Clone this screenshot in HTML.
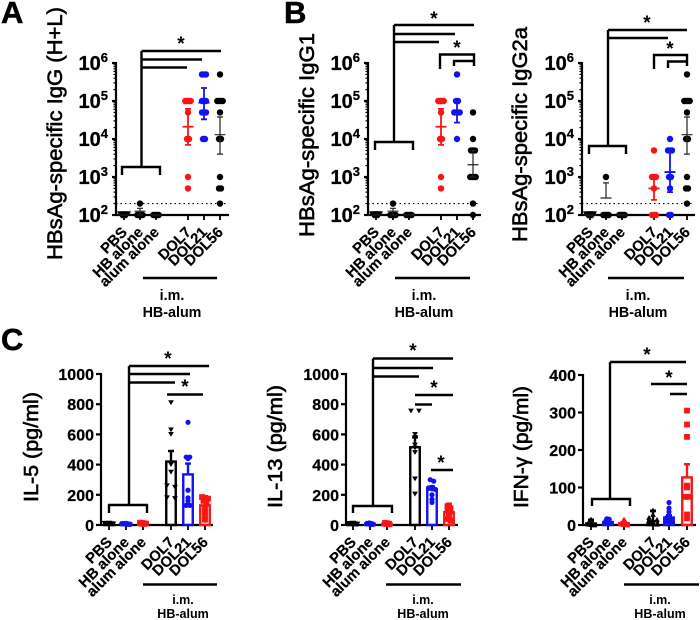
<!DOCTYPE html>
<html lang="en">
<head>
<meta charset="utf-8">
<title>HBsAg antibody and cytokine responses</title>
<style>
html,body{margin:0;padding:0;background:#fff;width:700px;height:620px;overflow:hidden}
svg{display:block}
text{font-family:"Liberation Sans",Arial,sans-serif;fill:#000}
.letter{font-size:31px;font-weight:700;stroke:#000;stroke-width:.5px}
.title{font-size:21px;stroke:#000;stroke-width:.6px}
.titleb{font-size:20px;stroke:#000;stroke-width:.6px}
.star{font-size:19px;font-weight:700;text-anchor:middle}
.sub{font-size:14.300px;font-weight:700;text-anchor:middle}
.subb{font-size:12.500px;font-weight:700;text-anchor:middle}
.ann{fill:none;stroke:#000;stroke-width:2.4}
</style>
</head>
<body>
<svg id="figure" xmlns="http://www.w3.org/2000/svg" width="700" height="620" viewBox="0 0 700 620">
  <rect width="700" height="620" fill="#fff"/>
  <text class="letter" x="1" y="23">A</text>
  <text class="letter" x="284" y="23">B</text>
  <text class="letter" x="1" y="350">C</text>

  <text class="title" transform="translate(62,260) rotate(-90)" textLength="253" lengthAdjust="spacingAndGlyphs">HBsAg-specific IgG (H+L)</text>
  <text class="title" transform="translate(314,237) rotate(-90)" textLength="204" lengthAdjust="spacingAndGlyphs">HBsAg-specific IgG1</text>
  <text class="title" transform="translate(527,242) rotate(-90)" textLength="215" lengthAdjust="spacingAndGlyphs">HBsAg-specific IgG2a</text>
  <text class="titleb" transform="translate(38,502) rotate(-90)" textLength="110" lengthAdjust="spacingAndGlyphs">IL-5 (pg/ml)</text>
  <text class="titleb" transform="translate(282,508) rotate(-90)" textLength="123" lengthAdjust="spacingAndGlyphs">IL-13 (pg/ml)</text>
  <text class="titleb" transform="translate(528,508) rotate(-90)" textLength="122" lengthAdjust="spacingAndGlyphs">IFN-γ (pg/ml)</text>

  <g id="charts"></g>

  <g>
    <path class="ann" d="M122 175V167H160V175M141.500 167V51M141.500 51H221M141.500 59.500H202M141.500 67.500H187"/>
    <text class="star" x="181" y="50">*</text>
  </g>
  <g>
    <path class="ann" d="M375 150V142H413V150M394 142V25M394 25H474M394 34H455M394 42H439M440 69V54.500H474V66M454 66V61H474"/>
    <text class="star" x="434" y="25">*</text>
    <text class="star" x="457" y="54">*</text>
  </g>
  <g>
    <path class="ann" d="M589 154V146H626V154M608 146V30M608 30H687M608 38H668M654 69V55H687V66M668 68V61.500H687"/>
    <text class="star" x="647" y="29">*</text>
    <text class="star" x="670" y="55">*</text>
  </g>
  <g>
    <path class="ann" d="M109 513V505H147V513M129 505V366M129 366H209M129 374H190M129 382.500H175M167 394.500H203"/>
    <text class="star" x="168" y="365">*</text>
    <text class="star" x="185" y="393">*</text>
  </g>
  <g>
    <path class="ann" d="M353 513V506H392V513M373 506V358.500M373 358.500H453M373 368H433M373 376.500H419M415 395H453M415 404.500H432M431 470H453"/>
    <text class="star" x="413" y="357">*</text>
    <text class="star" x="434" y="394">*</text>
    <text class="star" x="441" y="469">*</text>
  </g>
  <g>
    <path class="ann" d="M592 506V499H630V506M610 499V362M610 362H686M651 384H687M670 394H687"/>
    <text class="star" x="647" y="361">*</text>
    <text class="star" x="669" y="384">*</text>
  </g>

  <g>
    <path class="ann" d="M143 278H217"/>
    <text class="sub" x="172" y="300">i.m.</text>
    <text class="sub" x="172" y="317">HB-alum</text>
  </g>
  <g>
    <path class="ann" d="M395 278H470"/>
    <text class="sub" x="424" y="300">i.m.</text>
    <text class="sub" x="424" y="317">HB-alum</text>
  </g>
  <g>
    <path class="ann" d="M608 278H684"/>
    <text class="sub" x="638" y="300">i.m.</text>
    <text class="sub" x="638" y="317">HB-alum</text>
  </g>
  <g>
    <path class="ann" d="M143 584.500H217"/>
    <text class="subb" x="183" y="604">i.m.</text>
    <text class="subb" x="183" y="618">HB-alum</text>
  </g>
  <g>
    <path class="ann" d="M386 584.500H461"/>
    <text class="subb" x="423" y="604">i.m.</text>
    <text class="subb" x="423" y="618">HB-alum</text>
  </g>
  <g>
    <path class="ann" d="M624 584.500H699"/>
    <text class="subb" x="660" y="604">i.m.</text>
    <text class="subb" x="660" y="618">HB-alum</text>
  </g>
</svg>

<script>
// Shared categories and tick labels
const categories = ['PBS', 'HB alone', 'alum alone', 'DOL7', 'DOL21', 'DOL56'];
const logTickExponents = [2, 3, 4, 5, 6];
const cytokineTicks1000 = [0, 200, 400, 600, 800, 1000];
const cytokineTicks400 = [0, 100, 200, 300, 400];
const detectionLimit = 200;

// Panel A: total IgG titres
const iggPBS = [100, 100, 100, 100, 100];
const iggHB = [200, 100, 100, 100, 100, 100];
const iggAlum = [100, 100, 100, 100, 100];
const iggDOL7 = [100000, 100000, 100000, 100000, 100000, 50000, 10000, 10000, 1000, 500];
const iggDOL21 = [500000, 500000, 500000, 100000, 100000, 100000, 50000, 50000, 50000, 10000, 10000];
const iggDOL56 = [500000, 100000, 100000, 100000, 100000, 50000, 10000, 10000, 1000, 500, 500, 200];
const iggMeans = [100, 126, 100, 21000, 90000, 13000];
const iggLow = [100, 100, 100, 7000, 33000, 4000];
const iggHigh = [100, 150, 100, 62000, 220000, 38000];

// Panel B: IgG1 titres
const igg1PBS = [100, 100, 100, 100, 100];
const igg1HB = [200, 100, 100, 100, 100, 100];
const igg1Alum = [100, 100, 100, 100, 100];
const igg1DOL7 = [100000, 100000, 100000, 100000, 100000, 50000, 10000, 10000, 1000, 500];
const igg1DOL21 = [500000, 100000, 100000, 50000, 50000, 50000, 50000, 10000];
const igg1DOL56 = [50000, 10000, 5000, 5000, 5000, 1000, 1000, 1000, 1000, 200, 100];
const igg1Means = [100, 126, 100, 21000, 52000, 2100];
const igg1Low = [100, 100, 100, 7000, 27000, 1000];
const igg1High = [100, 150, 100, 62000, 100000, 5000];

// Panel B2: IgG2a titres
const igg2aPBS = [100, 100, 100, 100, 100];
const igg2aHB = [1000, 100, 100, 100, 100, 100];
const igg2aAlum = [100, 100, 100, 100, 100];
const igg2aDOL7 = [5000, 1000, 1000, 1000, 500, 100, 100, 100];
const igg2aDOL21 = [10000, 5000, 5000, 5000, 1000, 1000, 500, 100, 100];
const igg2aDOL56 = [500000, 100000, 100000, 100000, 100000, 50000, 10000, 10000, 1000, 500, 500, 200];
const igg2aMeans = [100, 280, 100, 500, 1350, 13000];
const igg2aLow = [100, 280, 100, 250, 400, 4000];
const igg2aHigh = [100, 700, 100, 1000, 5000, 38000];

// Panel C: IL-5
const il5PBS = [10, 9, 8, 7, 6, 5];
const il5HB = [10, 9, 8, 7, 6, 5];
const il5Alum = [16, 14, 12, 10, 8, 6];
const il5DOL7 = [810, 630, 600, 400, 350, 260, 250, 180, 175];
const il5DOL21 = [680, 450, 450, 440, 230, 180, 160, 130, 130];
const il5DOL56 = [185, 180, 175, 160, 150, 110, 90, 60, 35];
const il5Means = [8, 8, 10, 420, 335, 130];
const il5Sem = [2, 2, 2, 70, 72, 28];

// Panel C: IL-13
const il13PBS = [10, 8, 7, 6, 5, 4];
const il13HB = [12, 10, 9, 8, 6, 5];
const il13Alum = [15, 12, 10, 8, 6, 4];
const il13DOL7 = [755, 755, 600, 580, 530, 510, 480, 305, 205];
const il13DOL21 = [300, 290, 250, 245, 240, 235, 200, 170, 150];
const il13DOL56 = [130, 125, 110, 100, 90, 80, 60, 40, 30];
const il13Means = [7, 8, 8, 515, 235, 85];
const il13Sem = [2, 2, 2, 65, 20, 15];

// Panel C: IFN-gamma
const ifnPBS = [15, 6, 4, 3, 2, 1];
const ifnHB = [16, 15, 10, 8, 5, 3];
const ifnAlum = [15, 6, 4, 3, 2, 1];
const ifnDOL7 = [40, 28, 20, 15, 10, 8, 5, 3, 2];
const ifnDOL21 = [60, 45, 35, 25, 20, 15, 10, 8, 5];
const ifnDOL56 = [305, 268, 235, 105, 100, 75, 75, 28, 18];
const ifnMeans = [4, 8, 5, 10, 20, 127];
const ifnSem = [10, 3, 2, 28, 6, 35];

const colorBlack = '#000';
const colorRed = '#fa1414';
const colorBlue = '#1212f0';

const SVG_NS = 'http://www.w3.org/2000/svg';
const root = document.getElementById('charts');

function make(tag, attrs, parent) {
  const el = document.createElementNS(SVG_NS, tag);
  for (const k in attrs) el.setAttribute(k, attrs[k]);
  parent.appendChild(el);
  return el;
}

function marker(shape, x, y, r, color, parent) {
  let el;
  if (shape === 'circle') {
    el = make('circle', { cx: x, cy: y, r: r, fill: color }, parent);
  } else if (shape === 'square') {
    el = make('rect', { x: x - r, y: y - r, width: 2 * r, height: 2 * r, fill: color }, parent);
  } else if (shape === 'triangle-up') {
    el = make('path', { d: `M${x - r * 1.2} ${y + r}L${x + r * 1.2} ${y + r}L${x} ${y - r}Z`, fill: color }, parent);
  } else {
    el = make('path', { d: `M${x - r * 1.2} ${y - r}L${x + r * 1.2} ${y - r}L${x} ${y + r}Z`, fill: color }, parent);
  }
  
  
}

// Spread points that land on the same pixel row, Prism-style, within a capped half-width
function drawSwarm(values, cx, yScale, shape, r, spacing, maxSpread, color, parent) {
  const bins = new Map();
  values.forEach(function (v) {
    const key = Math.round(yScale(v) / 3);
    if (!bins.has(key)) bins.set(key, []);
    bins.get(key).push(v);
  });
  bins.forEach(function (vals) {
    const n = vals.length;
    const step = n > 1 ? Math.min(spacing, maxSpread / (n - 1)) : 0;
    vals.forEach(function (v, i) {
      marker(shape, cx + (i - (n - 1) / 2) * step, yScale(v), r, color, parent);
    });
  });
}

function drawCategoryAxis(g, panel, yBottom) {
  const axis = make('line', { x1: panel.axisX, x2: panel.xEnd, y1: yBottom, y2: yBottom, stroke: '#000', 'stroke-width': 2.2 }, g);
  
  
  categories.forEach(function (name, i) {
    const x = panel.xs[i];
    const tick = make('line', { x1: x, x2: x, y1: yBottom, y2: yBottom + 5, stroke: '#000', 'stroke-width': 1.8 }, g);
    
    
    const label = make('text', {
      transform: `translate(${x + 4},${yBottom + 18}) rotate(-45)`,
      'text-anchor': 'end', 'font-size': panel.catSize, 'font-weight': 700, stroke: '#000', 'stroke-width': 0.2
    }, g);
    
    
    label.textContent = name;
  });
}

function drawLogPanel(panel) {
  const g = make('g', {}, root);
  
  
  const yTop = 63, yBottom = 215;
  const minExp = logTickExponents[0];
  const maxExp = logTickExponents[logTickExponents.length - 1];
  const yScale = function (v) {
    return yBottom - (Math.log10(v) - minExp) / (maxExp - minExp) * (yBottom - yTop);
  };

  const yAxis = make('line', { x1: panel.axisX, x2: panel.axisX, y1: yTop - 1, y2: yBottom + 1, stroke: '#000', 'stroke-width': 2.2 }, g);
  
  
  logTickExponents.forEach(function (e) {
    const y = yScale(Math.pow(10, e));
    const tick = make('line', { x1: panel.axisX - 4, x2: panel.axisX, y1: y, y2: y, stroke: '#000', 'stroke-width': 2.2 }, g);
    
    
    const label = make('text', { x: panel.axisX - 8, y: y + 7, 'text-anchor': 'end', 'font-size': 20, 'font-weight': 700, stroke: '#000', 'stroke-width': 0.3 }, g);
    
    
    label.textContent = '10';
    const sup = make('tspan', { dy: -8, 'font-size': 13 }, label);
    
    
    sup.textContent = String(e);
    if (e < maxExp) {
      for (let m = 2; m < 10; m++) {
        const my = yScale(m * Math.pow(10, e));
        const minor = make('line', { x1: panel.axisX - 2.5, x2: panel.axisX, y1: my, y2: my, stroke: '#000', 'stroke-width': 1.2 }, g);
        
        
      }
    }
  });

  const limitY = yScale(detectionLimit);
  const limit = make('line', { x1: panel.axisX, x2: panel.xEnd - 3, y1: limitY, y2: limitY, stroke: '#000', 'stroke-width': 1.2, 'stroke-dasharray': '1.5 3' }, g);
  
  

  drawCategoryAxis(g, panel, yBottom);

  panel.series.forEach(function (values, i) {
    const shape = i === 0 ? 'triangle-down' : 'circle';
    const r = i === 0 ? 3.6 : 3.2;
    drawSwarm(values, panel.xs[i], yScale, shape, r, 2, 5.5, panel.colors[i], g);
    const x = panel.xs[i];
    const color = panel.colors[i];
    const width = color === colorBlack ? 1.2 : 1.8;
    const capW = 3;
    const meanW = 5.5;
    const err = make('path', {
      d: `M${x} ${yScale(panel.low[i])}V${yScale(panel.high[i])}M${x - capW} ${yScale(panel.low[i])}H${x + capW}M${x - capW} ${yScale(panel.high[i])}H${x + capW}M${x - meanW} ${yScale(panel.means[i])}H${x + meanW}`,
      stroke: color === colorBlack ? '#222' : color, 'stroke-width': width, fill: 'none'
    }, g);
    
    
  });
}

function drawBarPanel(panel) {
  const g = make('g', {}, root);
  
  
  const yBottom = 525;
  const yTop = panel.topY;
  const maxV = panel.ticks[panel.ticks.length - 1];
  const yScale = function (v) {
    return yBottom - v / maxV * (yBottom - yTop);
  };

  const yAxis = make('line', { x1: panel.axisX, x2: panel.axisX, y1: yTop - 1, y2: yBottom + 1, stroke: '#000', 'stroke-width': 2.2 }, g);
  
  
  panel.ticks.forEach(function (t) {
    const y = yScale(t);
    const tick = make('line', { x1: panel.axisX - 5, x2: panel.axisX, y1: y, y2: y, stroke: '#000', 'stroke-width': 2.2 }, g);
    
    
    const label = make('text', { x: panel.axisX - 7, y: y + 6, 'text-anchor': 'end', 'font-size': 16, 'font-weight': 700, stroke: '#000', 'stroke-width': 0.25 }, g);
    
    
    label.textContent = String(t);
  });

  drawCategoryAxis(g, panel, yBottom);

  panel.series.forEach(function (values, i) {
    const x = panel.xs[i];
    const color = panel.colors[i];
    const barW = 9.5;
    const bar = make('rect', {
      x: x - barW / 2, y: yScale(panel.means[i]), width: barW, height: yBottom - yScale(panel.means[i]),
      fill: 'none', stroke: color, 'stroke-width': 2.4
    }, g);
    
    
    const top = yScale(panel.means[i] + panel.sem[i]);
    const err = make('path', {
      d: `M${x} ${yScale(panel.means[i])}V${top}M${x - 3} ${top}H${x + 3}`,
      stroke: color, 'stroke-width': 2.4, fill: 'none'
    }, g);
    
    
    drawSwarm(values, x, yScale, panel.shapes[i], panel.sizes[i], panel.spacing[i], 9, color, g);
  });
}

const logCatSize = 14.8;

drawLogPanel({
  name: 'chart-igg', axisX: 116, xEnd: 229, catSize: logCatSize,
  xs: [124, 140, 156, 188, 204, 220],
  colors: [colorBlack, colorBlack, colorBlack, colorRed, colorBlue, colorBlack],
  series: [iggPBS, iggHB, iggAlum, iggDOL7, iggDOL21, iggDOL56],
  means: iggMeans, low: iggLow, high: iggHigh
});
drawLogPanel({
  name: 'chart-igg1', axisX: 368, xEnd: 481, catSize: logCatSize,
  xs: [376, 393, 409, 441, 457, 473],
  colors: [colorBlack, colorBlack, colorBlack, colorRed, colorBlue, colorBlack],
  series: [igg1PBS, igg1HB, igg1Alum, igg1DOL7, igg1DOL21, igg1DOL56],
  means: igg1Means, low: igg1Low, high: igg1High
});
drawLogPanel({
  name: 'chart-igg2a', axisX: 582, xEnd: 695, catSize: logCatSize,
  xs: [590, 606, 622, 654, 670, 687],
  colors: [colorBlack, colorBlack, colorBlack, colorRed, colorBlue, colorBlack],
  series: [igg2aPBS, igg2aHB, igg2aAlum, igg2aDOL7, igg2aDOL21, igg2aDOL56],
  means: igg2aMeans, low: igg2aLow, high: igg2aHigh
});

const barShapes = ['triangle-down', 'circle', 'square', 'triangle-down', 'circle', 'square'];
const ifnShapes = ['triangle-up', 'circle', 'triangle-up', 'triangle-up', 'circle', 'square'];
const barSizes = [2.8, 2.8, 2.8, 2.4, 2.6, 2.9];
const barSpacing = [2, 2, 2, 8, 3.5, 3];
const barColors = [colorBlack, colorBlue, colorRed, colorBlack, colorBlue, colorRed];

drawBarPanel({
  name: 'chart-il5', axisX: 101, xEnd: 213, catSize: logCatSize, topY: 374,
  xs: [109, 126, 143, 171, 188, 205], ticks: cytokineTicks1000,
  colors: barColors, shapes: barShapes, sizes: barSizes, spacing: barSpacing,
  series: [il5PBS, il5HB, il5Alum, il5DOL7, il5DOL21, il5DOL56],
  means: il5Means, sem: il5Sem
});
drawBarPanel({
  name: 'chart-il13', axisX: 346, xEnd: 458, catSize: logCatSize, topY: 374,
  xs: [353, 370, 387, 415, 432, 449], ticks: cytokineTicks1000,
  colors: barColors, shapes: barShapes, sizes: barSizes, spacing: barSpacing,
  series: [il13PBS, il13HB, il13Alum, il13DOL7, il13DOL21, il13DOL56],
  means: il13Means, sem: il13Sem
});
drawBarPanel({
  name: 'chart-ifn', axisX: 583, xEnd: 696, catSize: logCatSize, topY: 375,
  xs: [591, 608, 624, 653, 669, 687], ticks: cytokineTicks400,
  colors: barColors, shapes: ifnShapes, sizes: barSizes, spacing: barSpacing,
  series: [ifnPBS, ifnHB, ifnAlum, ifnDOL7, ifnDOL21, ifnDOL56],
  means: ifnMeans, sem: ifnSem
});
</script>
</body>
</html>
